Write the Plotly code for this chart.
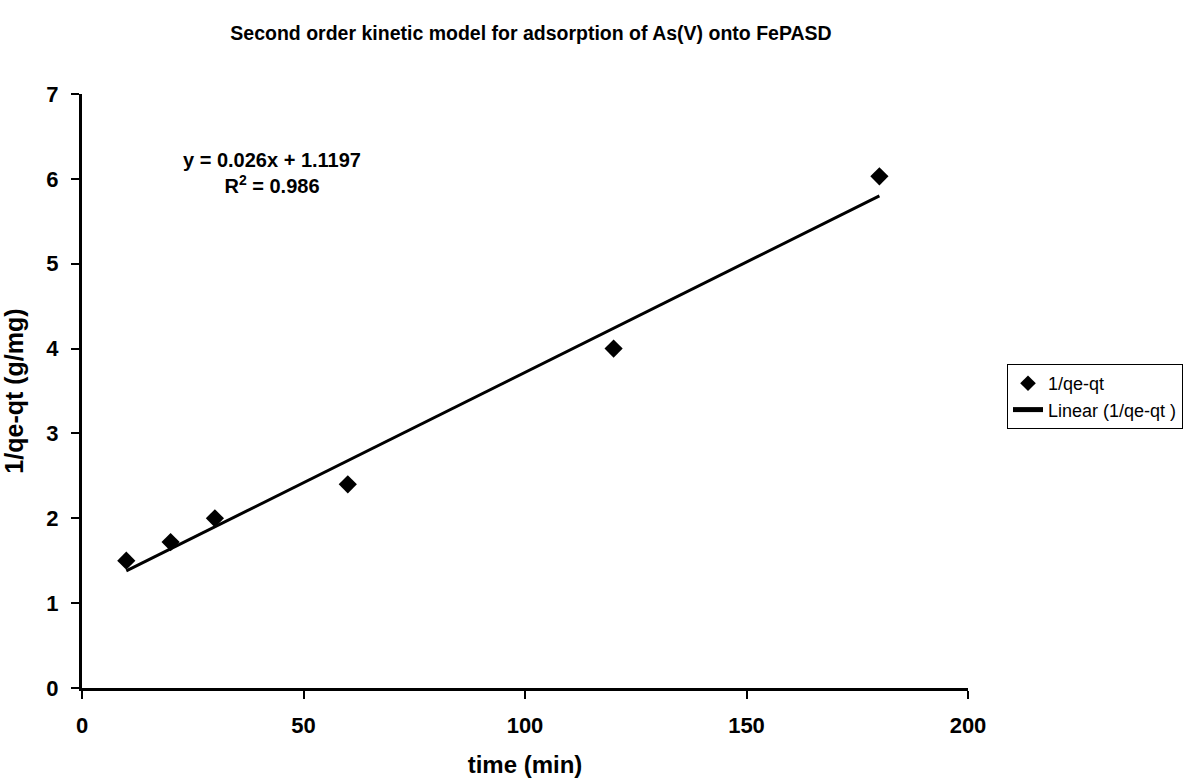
import plotly.graph_objects as go

# Kinetic data: time (min) vs 1/(qe-qt) (g/mg)
time_min = [10, 20, 30, 60, 120, 180]
inv_qe_qt = [1.5, 1.72, 2.0, 2.4, 4.0, 6.03]

# Linear trendline parameters
slope = 0.026
intercept = 1.1197
r_squared = 0.986

x_ticks = [0, 50, 100, 150, 200]
y_ticks = [0, 1, 2, 3, 4, 5, 6, 7]

fit_x = [min(time_min), max(time_min)]
fit_y = [slope * v + intercept for v in fit_x]

FONT = "Liberation Sans, Arial, sans-serif"
PLOT_L, PLOT_R, PLOT_T, PLOT_B = 82, 968, 94, 688

fig = go.Figure()
fig.add_trace(go.Scatter(
    x=time_min, y=inv_qe_qt, mode="markers", name="1/qe-qt",
    marker=dict(symbol="diamond", size=14, color="black"),
))
fig.add_trace(go.Scatter(
    x=fit_x, y=fit_y, mode="lines", name="Linear (1/qe-qt )",
    line=dict(color="black", width=3),
))

fig.add_annotation(
    x=(272 - PLOT_L) / (PLOT_R - PLOT_L), y=(PLOT_B - 173) / (PLOT_B - PLOT_T),
    xref="paper", yref="paper", xanchor="center", yanchor="middle",
    text=f"<b>y = {slope}x + {intercept}<br>R<sup>2</sup> = {r_squared}</b>",
    showarrow=False, align="center",
    font=dict(family=FONT, size=20, color="black"),
)

fig.update_layout(
    width=1195, height=783,
    paper_bgcolor="white", plot_bgcolor="white",
    margin=dict(l=PLOT_L, r=1195 - PLOT_R, t=PLOT_T, b=783 - PLOT_B, autoexpand=False),
    title=dict(
        text="<b>Second order kinetic model for adsorption of As(V) onto FePASD</b>",
        x=531 / 1195, xanchor="center", y=1 - 33 / 783, yanchor="middle",
        font=dict(family=FONT, size=19.5, color="black"),
    ),
    showlegend=True,
    legend=dict(
        x=(1007 - PLOT_L) / (PLOT_R - PLOT_L), xanchor="left",
        y=(PLOT_B - 364) / (PLOT_B - PLOT_T), yanchor="top",
        bordercolor="black", borderwidth=1, bgcolor="white",
        font=dict(family=FONT, size=18, color="black"),
        tracegroupgap=0, itemwidth=30, itemsizing="constant",
    ),
    xaxis=dict(
        range=[0, 200], tickvals=x_ticks, ticktext=[f"<b>{v}</b>" for v in x_ticks],
        showgrid=False, zeroline=False, automargin=False,
        showline=True, linecolor="black", linewidth=3,
        ticks="outside", ticklen=8, tickwidth=2, tickcolor="black",
        ticklabelstandoff=8,
        tickfont=dict(family=FONT, size=22, color="black"),
        title=dict(text="<b>time (min)</b>", font=dict(family=FONT, size=24, color="black"), standoff=19),
    ),
    yaxis=dict(
        range=[0, 7], tickvals=y_ticks, ticktext=[f"<b>{v}</b>" for v in y_ticks],
        showgrid=False, zeroline=False, automargin=False,
        showline=True, linecolor="black", linewidth=3,
        ticks="outside", ticklen=8, tickwidth=2, tickcolor="black",
        ticklabelstandoff=8,
        tickfont=dict(family=FONT, size=22, color="black"),
        title=dict(text="<b>1/qe-qt (g/mg)</b>", font=dict(family=FONT, size=25, color="black"), standoff=18),
    ),
)

fig.write_html("out.html")
